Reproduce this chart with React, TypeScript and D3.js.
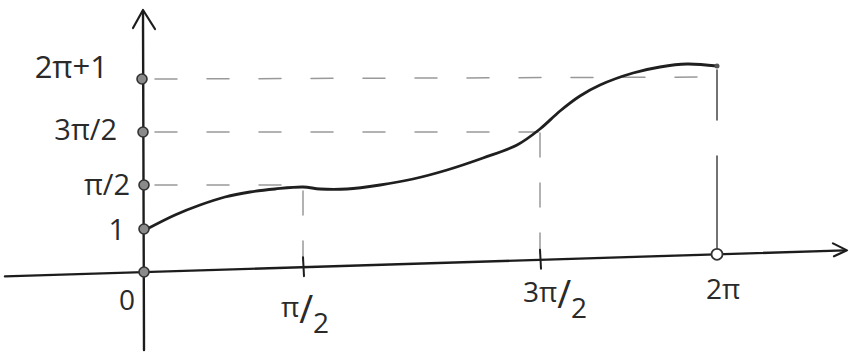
import React from 'react';
import * as d3 from 'd3';

const PI = Math.PI;
// x ticks (math units) and labels
const xTickValues = [0, PI / 2, (3 * PI) / 2, 2 * PI];
const xTickLabels = ['0', 'π/2', '3π/2', '2π'];
// y ticks (math units) and labels
const yTickValues = [1, PI / 2, (3 * PI) / 2, 2 * PI + 1];
const yTickLabels = ['1', 'π/2', '3π/2', '2π+1'];
// sketched curve (math units)
const curveX = [0, 0.282, 0.534, 0.785, 1.037, 1.289, 1.571, 1.796, 2.154, 2.592, 3.029, 3.48, 3.957, 4.408, 4.712, 4.89, 5.067, 5.245, 5.538, 5.777, 6.017, 6.283];
const curveY = [1.0, 1.182, 1.311, 1.415, 1.48, 1.519, 1.545, 1.519, 1.519, 1.571, 1.926, 2.46, 3.171, 3.942, 4.858, 5.731, 6.459, 6.992, 7.574, 7.865, 8.011, 7.914];

const W = 849;
const H = 354;

export default function App() {
  // hand-drawn sketch: axes are not evenly spaced, so use piecewise scales
  const x = d3.scaleLinear().domain([0, PI / 2, (3 * PI) / 2, 2 * PI]).range([147, 303, 540, 717]);
  const y = d3.scaleLinear().domain([0, 1, PI / 2, (3 * PI) / 2, 2 * PI + 1]).range([272, 229, 185, 132, 79]);
  const tilt = 0.031; // the sketched x axis rises slightly to the right
  const axisY = (px: number) => y(0) - tilt * (px - x(0));

  const pts: [number, number][] = curveX.map((v, i) => [x(v), y(curveY[i])]);
  const line = d3.line<[number, number]>().curve(d3.curveCatmullRom.alpha(0.5))(pts) || '';

  const ink = '#1f1f1f';
  const pencil = '#8a8a8a';
  const font = "'Open Sans', 'DejaVu Sans', sans-serif";

  const curveAt = (v: number) => y(curveY[curveX.findIndex((c) => Math.abs(c - v) < 0.01)]);

  const xLeft = 5;
  const xRight = 845;

  // per-label placement of the hand-written y labels
  const yLabelRight = [125, 130, 117, 108];
  const yLabelDy = [11, 10, 8, -1];
  const yLabelSize = [29, 29, 29, 31];

  return (
    <svg width={W} height={H} style={{ position: 'absolute', left: 0, top: 0, display: 'block', background: '#fff' }}>
      <defs>
        <filter id="rough" x="-5%" y="-5%" width="110%" height="110%">
          <feTurbulence type="fractalNoise" baseFrequency="0.08" numOctaves="2" seed="3" />
          <feDisplacementMap in="SourceGraphic" scale="1.4" />
        </filter>
      </defs>

      {/* horizontal dashed guides */}
      {yTickValues.map((v, i) => {
        const xEnd = i === 0 ? null : i === 1 ? x(PI / 2) : i === 2 ? x((3 * PI) / 2) : x(2 * PI);
        if (xEnd === null) return null;
        return (
          <line key={'h' + i} x1={x(0) + 8} x2={xEnd - 2} y1={y(v)} y2={y(v) - (i === 3 ? 2 : 0)}
            stroke="#999" strokeWidth={1.5} strokeDasharray="22 30" strokeLinecap="round" />
        );
      })}

      {/* vertical dashed guides */}
      {xTickValues.slice(1).map((v, i) => {
        const px = x(v);
        return (
          <line key={'v' + i} x1={px} x2={px} y1={curveAt(v) + 4} y2={axisY(px) - 6}
            stroke={i === 2 ? '#444' : '#999'} strokeWidth={1.5}
            strokeDasharray={i === 2 ? '50 36 200' : '24 26'} strokeLinecap="round" />
        );
      })}

      <g filter="url(#rough)">
        {/* x axis */}
        <line x1={xLeft} y1={axisY(xLeft)} x2={xRight} y2={axisY(xRight)} stroke={ink} strokeWidth={2.4} strokeLinecap="round" />
        <polyline points={`${xRight - 12},${axisY(xRight) - 7} ${xRight + 2},${axisY(xRight)} ${xRight - 11},${axisY(xRight) + 6}`}
          fill="none" stroke={ink} strokeWidth={2.2} strokeLinecap="round" strokeLinejoin="round" />
        {/* y axis */}
        <line x1={x(0) - 3} y1={350} x2={x(0) - 4} y2={11} stroke={ink} strokeWidth={2.4} strokeLinecap="round" />
        <polyline points={`${x(0) - 14},${28} ${x(0) - 4},${10} ${x(0) + 8},${29}`}
          fill="none" stroke={ink} strokeWidth={2.2} strokeLinecap="round" strokeLinejoin="round" />

        {/* x ticks */}
        {xTickValues.slice(1, 3).map((v, i) => {
          const px = x(v);
          return <line key={'xt' + i} x1={px} x2={px + 1} y1={axisY(px) - 10} y2={axisY(px) + 9} stroke={ink} strokeWidth={2} strokeLinecap="round" />;
        })}
      </g>

      {/* curve */}
      <path d={line} fill="none" stroke={ink} strokeWidth={2.8} strokeLinecap="round" strokeLinejoin="round" />

      {/* markers on y axis */}
      {[0, ...yTickValues].map((v, i) => (
        <circle key={'yc' + i} cx={x(0) - 3 + (i > 2 ? -(i - 2) : 0)} cy={y(v)} r={5} fill={pencil} stroke="#333" strokeWidth={1.6} />
      ))}
      {/* open marker at 2π on x axis */}
      <circle cx={x(2 * PI)} cy={axisY(x(2 * PI))} r={5.5} fill="#fff" stroke="#333" strokeWidth={1.8} />
      <circle cx={x(2 * PI)} cy={curveAt(2 * PI)} r={2.5} fill="#555" />

      {/* y labels */}
      {yTickValues.map((v, i) => (
        <text key={'yl' + i} x={yLabelRight[i]} y={y(v) + yLabelDy[i]} textAnchor="end"
          fontFamily={font} fontSize={yLabelSize[i]} fill="#2a2a2a">{yTickLabels[i]}</text>
      ))}

      {/* x labels */}
      <text x={x(0) - 20} y={axisY(x(0)) + 38} textAnchor="middle" fontFamily={font} fontSize={28} fill="#2a2a2a">{xTickLabels[0]}</text>
      {xTickValues.slice(1, 3).map((v, i) => {
        const lab = xTickLabels[i + 1];
        const [num] = lab.split('/');
        const px = x(v) + (i === 0 ? 2 : 15);
        const py = axisY(x(v)) + (i === 0 ? 50 : 42);
        return (
          <text key={'xl' + i} x={px} y={py} textAnchor="middle" fontFamily={font} fontSize={28} fill="#2a2a2a">
            <tspan>{num}</tspan>
            <tspan fontSize={38} dy={6}>/</tspan>
            <tspan dy={10} fontSize={28}>2</tspan>
          </text>
        );
      })}
      <text x={x(2 * PI) + 6} y={axisY(x(2 * PI)) + 45} textAnchor="middle" fontFamily={font} fontSize={28} fill="#2a2a2a">{xTickLabels[3]}</text>
    </svg>
  );
}
